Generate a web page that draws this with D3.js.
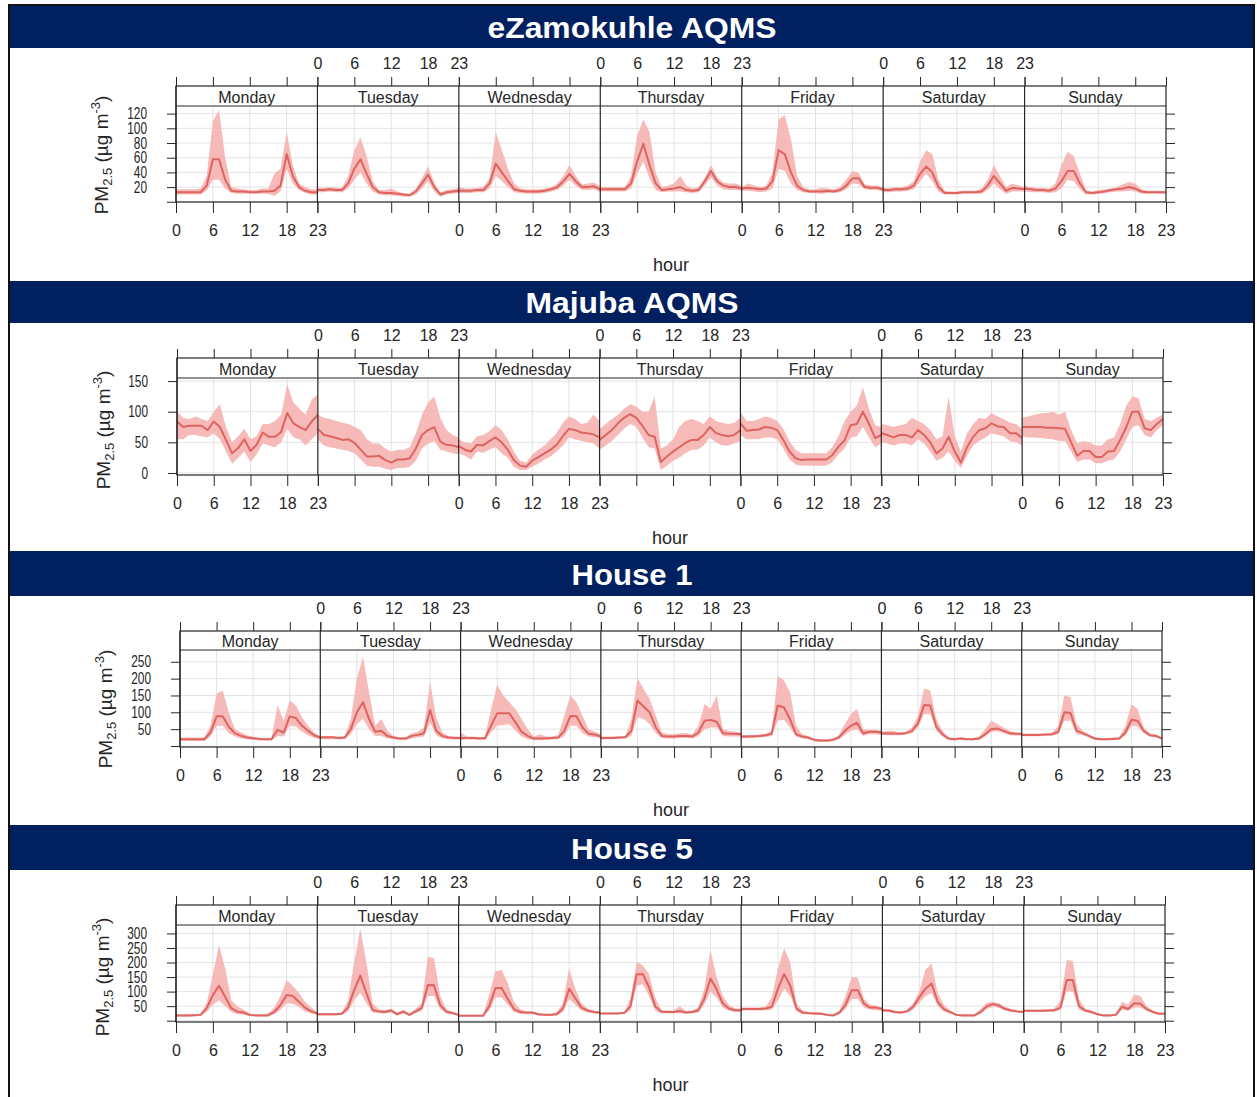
<!DOCTYPE html>
<html>
<head>
<meta charset="utf-8">
<script src="https://cdn.jsdelivr.net/npm/d3@7"></script>
<style>
  body { margin: 0; background: #fff; }
  text { font-family: Arial, "Liberation Sans", sans-serif; }
</style>
</head>
<body>
<div id="app"></div>
<script>
const days = ["Monday", "Tuesday", "Wednesday", "Thursday", "Friday", "Saturday", "Sunday"];
const hourTicks = [0, 6, 12, 18, 23];
const titles = ["eZamokuhle AQMS", "Majuba AQMS", "House 1", "House 5"];

// eZamokuhle AQMS - hourly mean per day and the shaded interval
const ezMean = [
  [13,13,13,13,13,22,58,58,30,15,14,14,13,13,14,14,15,22,65,35,20,15,13,13],
  [16,16,17,16,16,25,45,58,38,20,13,12,12,11,10,9,14,25,37,20,10,13,14,15],
  [15,15,15,16,16,25,52,40,28,17,15,14,14,14,15,17,20,28,38,28,20,20,21,17],
  [17,17,17,17,17,25,55,79,50,25,16,17,18,20,16,15,16,28,42,28,22,20,20,18],
  [18,19,18,17,18,28,70,65,40,22,16,14,14,14,15,14,16,22,32,32,20,19,19,17],
  [16,16,17,17,18,22,38,48,40,20,12,12,12,13,13,13,14,22,35,25,15,19,18,17],
  [18,17,16,16,15,18,28,42,42,25,13,12,13,14,16,17,18,20,18,14,13,13,13,13]
];
const ezHigh = [
  [17,17,17,17,18,35,110,125,60,20,18,17,16,16,18,18,38,45,95,50,25,20,17,17],
  [19,19,20,19,19,35,70,88,62,28,16,16,18,14,12,11,18,32,48,26,13,16,17,19],
  [20,18,18,19,20,32,95,70,45,25,18,17,17,17,18,20,25,35,50,35,24,25,26,21],
  [20,20,20,20,20,35,90,112,95,40,20,22,25,35,22,18,20,33,50,34,26,25,25,22],
  [20,25,22,20,22,40,112,118,85,35,20,17,17,19,18,17,20,30,42,40,24,22,22,20],
  [19,19,20,20,22,28,55,70,65,30,15,14,14,15,15,15,18,30,50,35,20,25,22,20],
  [22,20,19,19,18,25,50,68,62,38,16,14,16,17,18,20,24,27,25,17,15,15,15,15]
];
const ezLow = [
  [10,10,10,10,10,15,30,30,18,12,11,11,11,11,11,11,8,14,45,25,16,12,10,10],
  [13,13,14,13,13,18,30,40,25,14,10,9,9,8,7,7,10,18,28,14,7,10,11,12],
  [12,12,12,13,13,18,35,28,20,13,12,11,11,11,12,14,16,22,30,22,16,16,17,13],
  [14,14,14,14,14,18,38,55,32,16,13,14,14,14,13,12,13,22,33,22,17,16,16,15],
  [15,15,14,13,14,18,45,42,25,16,13,12,12,11,12,12,13,17,25,24,17,16,16,14],
  [13,13,14,14,15,17,28,38,28,14,10,10,10,11,11,11,11,16,25,17,11,14,14,14],
  [14,13,13,13,12,13,18,30,28,17,10,10,11,12,13,14,14,15,14,11,11,11,11,11]
];

// Majuba AQMS
const mjMean = [
  [84,75,77,77,77,70,84,75,54,32,41,55,36,46,66,59,59,67,98,81,75,70,84,95],
  [72,62,60,57,54,55,49,38,27,27,28,21,17,22,22,24,40,62,70,75,51,46,45,42],
  [44,38,35,46,45,52,58,50,38,21,12,10,20,26,32,38,46,60,72,70,66,65,63,58],
  [54,62,70,81,90,96,90,77,62,59,18,27,35,42,49,54,54,62,75,65,62,60,62,70],
  [81,69,70,71,75,74,70,54,35,24,21,22,22,22,22,29,43,53,78,80,100,80,57,62],
  [65,62,58,62,62,58,70,62,50,32,40,59,35,17,42,59,70,73,81,76,75,65,65,57],
  [75,75,75,75,74,74,73,72,50,28,36,36,26,26,35,36,54,75,100,100,73,70,80,88]
];
const mjHigh = [
  [100,90,88,92,88,85,100,112,75,50,60,72,55,60,80,80,85,95,145,115,105,95,120,128],
  [95,90,88,85,82,80,75,70,55,48,48,40,35,38,38,42,65,95,115,125,90,70,62,58],
  [55,50,48,60,62,68,78,70,55,35,20,17,30,38,45,55,65,82,92,88,80,82,95,85],
  [72,80,88,95,105,112,108,100,100,125,40,45,55,75,85,88,85,80,92,85,82,80,82,90],
  [100,85,85,88,92,90,85,72,52,38,32,32,32,32,32,42,60,85,100,110,140,105,78,75],
  [80,78,75,78,80,90,85,80,70,55,60,125,60,35,65,80,90,88,98,92,88,82,80,72],
  [90,92,95,97,98,100,95,100,70,48,52,50,45,45,55,58,80,110,125,122,88,85,90,95]
];
const mjLow = [
  [55,55,62,62,60,58,65,55,35,15,25,35,18,30,48,45,42,50,72,58,55,45,55,65],
  [55,45,42,40,38,36,32,22,12,10,10,7,5,8,8,10,20,40,48,52,38,35,32,30],
  [32,28,22,35,33,38,42,32,25,10,5,5,10,15,22,27,35,45,58,55,52,50,48,40],
  [38,45,52,62,72,80,75,58,42,40,5,12,20,25,32,38,38,45,58,50,45,45,48,52],
  [62,55,55,55,58,58,55,40,22,14,12,12,12,12,12,18,30,40,58,60,75,58,42,48],
  [50,48,45,48,48,45,55,48,35,20,25,35,20,8,28,45,52,58,65,62,60,52,50,45],
  [60,58,58,57,56,55,52,52,35,18,22,22,16,16,20,22,35,55,75,78,62,58,70,78]
];

// House 1
const h1Mean = [
  [20,20,20,20,20,40,88,88,57,38,30,25,23,21,20,20,48,40,88,83,60,45,32,25],
  [25,26,26,24,25,50,100,130,80,42,45,30,25,22,22,30,33,38,107,45,30,25,24,24],
  [24,24,24,23,23,60,97,97,97,70,42,30,22,22,23,24,25,45,89,88,55,36,34,28],
  [24,24,24,25,26,45,135,117,100,55,30,28,28,30,30,28,40,75,77,72,38,36,36,35],
  [28,28,29,30,32,36,120,115,80,35,28,25,18,16,16,18,25,45,60,69,38,42,42,40],
  [38,37,37,36,38,45,67,122,120,57,35,22,20,22,20,20,22,35,50,52,45,38,36,36],
  [33,33,33,33,34,35,42,100,98,45,38,30,22,20,20,21,22,40,78,75,45,32,30,22]
];
const h1High = [
  [25,25,25,25,26,60,155,165,100,50,40,32,28,25,24,24,122,75,136,120,85,60,40,30],
  [30,30,30,28,30,80,200,265,160,60,80,45,30,26,26,38,42,55,190,85,40,30,28,28],
  [40,28,28,27,27,110,182,150,130,110,80,50,28,35,28,28,32,90,150,130,90,50,42,35],
  [28,28,28,29,30,80,202,170,140,90,40,35,35,38,38,35,60,125,110,151,50,45,42,40],
  [32,32,33,34,36,45,208,195,160,60,35,30,22,20,20,22,32,65,95,110,50,48,48,46],
  [42,45,45,40,42,55,90,171,165,80,45,26,24,26,24,24,28,50,75,65,55,45,40,40],
  [37,37,37,37,38,40,60,151,145,65,45,35,26,24,24,25,27,60,125,110,55,38,35,26]
];
const h1Low = [
  [15,15,15,15,15,28,60,60,38,28,22,20,18,16,16,16,30,28,60,58,42,32,24,20],
  [20,20,20,20,20,35,65,80,50,30,30,22,20,18,18,22,25,28,70,32,22,20,19,19],
  [18,19,19,18,18,40,60,62,65,45,28,20,18,17,18,19,20,30,60,60,38,28,26,22],
  [20,20,20,21,22,30,85,80,65,38,24,22,22,24,24,22,30,50,55,55,30,28,28,28],
  [23,23,24,25,27,30,75,78,55,28,22,20,14,12,12,14,20,33,45,50,30,35,35,33],
  [34,32,32,32,34,38,55,95,95,45,28,18,17,18,17,17,18,28,42,44,38,32,31,31],
  [29,29,29,29,30,31,35,75,75,35,32,25,18,17,17,18,19,32,60,58,38,28,26,19]
];

// House 5
const h5Mean = [
  [18,18,18,19,20,43,88,120,82,43,31,28,20,18,18,18,30,54,88,85,65,45,32,25],
  [22,22,22,22,24,45,105,155,95,37,32,30,35,22,31,20,32,43,123,122,54,31,26,20],
  [17,17,17,17,17,50,112,112,75,40,30,28,28,22,20,20,22,42,110,77,45,35,30,28],
  [25,25,25,25,27,50,160,160,115,50,31,30,30,33,28,30,35,75,145,108,60,42,36,36],
  [40,40,40,40,42,48,110,160,120,42,28,26,25,24,20,18,28,55,105,105,58,45,45,40],
  [35,35,30,28,32,48,80,110,128,65,40,30,20,18,18,18,30,50,57,52,40,35,32,30],
  [34,34,34,34,35,36,45,140,140,50,35,30,22,18,18,20,48,40,60,58,40,30,24,24]
];
const h5High = [
  [22,22,22,23,25,60,160,260,180,70,50,38,25,22,22,25,45,85,140,120,95,65,45,30],
  [26,26,26,26,28,70,200,317,200,60,40,36,42,28,38,25,40,60,220,215,85,40,32,25],
  [20,20,20,20,20,90,170,174,130,65,40,32,32,26,24,24,30,60,180,110,60,42,35,32],
  [28,28,28,28,30,80,203,190,160,80,38,35,35,50,33,35,45,110,243,150,85,55,42,42],
  [45,45,45,45,48,80,180,249,200,60,35,30,30,28,24,22,35,85,150,148,75,55,52,45],
  [40,40,35,32,37,60,100,175,197,95,55,35,24,22,22,22,40,62,65,60,48,40,36,34],
  [38,38,38,38,40,42,70,209,205,75,42,35,26,22,22,25,65,55,90,85,50,36,28,28]
];
const h5Low = [
  [14,14,14,15,16,30,55,70,50,30,22,20,16,15,15,15,22,38,60,58,48,32,25,20],
  [18,18,18,18,20,32,70,95,60,28,26,25,28,18,25,16,26,34,85,85,40,25,21,16],
  [14,14,14,14,14,35,80,80,55,30,23,22,22,18,16,16,18,30,75,55,35,28,25,22],
  [22,22,22,22,24,35,120,125,85,35,26,26,26,26,24,25,28,55,100,80,45,34,30,30],
  [35,35,35,35,36,38,70,110,85,32,22,22,20,20,16,14,22,40,75,75,45,38,36,34],
  [30,30,26,24,27,38,62,85,95,50,32,25,17,15,15,15,24,40,48,44,34,30,28,26],
  [30,30,30,30,31,32,38,100,100,38,30,26,19,15,15,17,38,34,45,45,34,26,21,21]
];

const yTickSets = [
  [0, 20, 40, 60, 80, 100, 120],
  [0, 50, 100, 150],
  [0, 50, 100, 150, 200, 250],
  [0, 50, 100, 150, 200, 250, 300]
];

const stations = [
  { mean: ezMean, high: ezHigh, low: ezLow },
  { mean: mjMean, high: mjHigh, low: mjLow },
  { mean: h1Mean, high: h1High, low: h1Low },
  { mean: h5Mean, high: h5High, low: h5Low }
];

// page layout of each block (pixels)
const layouts = [
  { top: 5,   head: 43, left: 176, right: 1166, stripTop: 86,  stripBottom: 106, plotBottom: 202,  yDomain: [-0.3, 130.4], hideZero: true,  ytx: 108, yty: 155, titleW: 289 },
  { top: 281, head: 42, left: 177, right: 1163, stripTop: 358, stripBottom: 378, plotBottom: 475,  yDomain: [-3.3, 155],   hideZero: false, ytx: 110, yty: 430, titleW: 213 },
  { top: 551, head: 45, left: 180, right: 1162, stripTop: 631, stripBottom: 650, plotBottom: 747,  yDomain: [-3, 285],     hideZero: true,  ytx: 112, yty: 709, titleW: 121 },
  { top: 825, head: 45, left: 176, right: 1165, stripTop: 905, stripBottom: 925, plotBottom: 1022, yDomain: [-4.5, 329],   hideZero: true,  ytx: 109, yty: 977, titleW: 122 }
];

const W = 1257, H = 1097;
const ink = '#262626';
const lineCol = '#de6460';
const bandCol = '#f5b3b1';
const gridCol = '#e3e3e3';

const svg = d3.select('#app').append('svg')
  .attr('width', W).attr('height', H)
  .style('display', 'block');

svg.append('rect').attr('width', W).attr('height', H).attr('fill', '#fff');

const styleAxis = (g, fs) => {
  g.attr('font-family', 'Arial, "Liberation Sans", sans-serif').attr('font-size', fs);
  g.select('.domain').remove();
  g.selectAll('.tick line').attr('stroke', ink);
  g.selectAll('.tick text').attr('fill', ink);
};

stations.forEach((st, p) => {
  const L = layouts[p];
  const g = svg.append('g');

  // navy header bar
  g.append('rect')
    .attr('x', 9).attr('y', L.top)
    .attr('width', 1245).attr('height', L.head)
    .attr('fill', '#002060');
  g.append('text')
    .attr('x', 632).attr('y', L.top + L.head / 2 + 1)
    .attr('text-anchor', 'middle').attr('dominant-baseline', 'central')
    .attr('fill', '#fff').attr('font-weight', 'bold').attr('font-size', 29)
    .attr('textLength', L.titleW).attr('lengthAdjust', 'spacingAndGlyphs')
    .text(titles[p]);

  const xDay = d3.scaleBand().domain(days).range([L.left, L.right]).padding(0);
  const y = d3.scaleLinear().domain(L.yDomain).range([L.plotBottom, L.stripBottom]);
  const yTicks = yTickSets[p];

  // horizontal grid
  g.append('g').selectAll('line').data(yTicks).join('line')
    .attr('x1', L.left).attr('x2', L.right)
    .attr('y1', d => y(d)).attr('y2', d => y(d))
    .attr('stroke', gridCol);

  const clipId = 'strip' + p;
  svg.append('clipPath').attr('id', clipId)
    .append('rect')
    .attr('x', L.left).attr('y', L.stripTop)
    .attr('width', L.right - L.left).attr('height', L.stripBottom - L.stripTop);

  days.forEach((day, i) => {
    const x0 = xDay(day), x1 = x0 + xDay.bandwidth();
    const hx = d3.scaleLinear().domain([0, 23]).range([x0, x1]);
    const pts = st.mean[i].map((m, h) => ({ h, m, lo: st.low[i][h], hi: st.high[i][h] }));

    // vertical grid
    g.append('g').selectAll('line').data([6, 12, 18]).join('line')
      .attr('x1', d => hx(d)).attr('x2', d => hx(d))
      .attr('y1', L.stripBottom).attr('y2', L.plotBottom)
      .attr('stroke', gridCol);

    g.append('path').datum(pts)
      .attr('fill', bandCol).attr('opacity', 0.9)
      .attr('d', d3.area().x(d => hx(d.h)).y0(d => y(d.lo)).y1(d => y(d.hi)));

    g.append('path').datum(pts)
      .attr('fill', 'none').attr('stroke', lineCol).attr('stroke-width', 2)
      .attr('stroke-linejoin', 'round')
      .attr('d', d3.line().x(d => hx(d.h)).y(d => y(d.m)));

    // strip
    g.append('rect')
      .attr('x', x0).attr('y', L.stripTop)
      .attr('width', x1 - x0).attr('height', L.stripBottom - L.stripTop)
      .attr('fill', '#fff');
    g.append('text')
      .attr('clip-path', `url(#${clipId})`)
      .attr('x', (x0 + x1) / 2).attr('y', L.stripBottom - 3)
      .attr('text-anchor', 'middle').attr('font-size', 16).attr('fill', ink)
      .text(day);

    // hour axes: labels alternate between bottom and top
    const bottom = g.append('g').attr('transform', `translate(0,${L.plotBottom})`)
      .call(d3.axisBottom(hx).tickValues(hourTicks).tickSize(11).tickPadding(12).tickSizeOuter(0)
        .tickFormat(i % 2 === 0 ? d3.format('d') : () => ''));
    styleAxis(bottom, 16);
    const topAx = g.append('g').attr('transform', `translate(0,${L.stripTop})`)
      .call(d3.axisTop(hx).tickValues(hourTicks).tickSize(9).tickPadding(8).tickSizeOuter(0)
        .tickFormat(i % 2 === 1 ? d3.format('d') : () => ''));
    styleAxis(topAx, 16);

    // day separator
    g.append('line')
      .attr('x1', x0).attr('x2', x0)
      .attr('y1', L.stripTop).attr('y2', L.plotBottom)
      .attr('stroke', ink).attr('stroke-width', 1.2);
  });

  // strip bottom and outer frame
  g.append('line')
    .attr('x1', L.left).attr('x2', L.right)
    .attr('y1', L.stripBottom).attr('y2', L.stripBottom)
    .attr('stroke', ink).attr('stroke-width', 1.2);
  g.append('rect')
    .attr('x', L.left).attr('y', L.stripTop)
    .attr('width', L.right - L.left).attr('height', L.plotBottom - L.stripTop)
    .attr('fill', 'none').attr('stroke', ink).attr('stroke-width', 1.2);

  // y axes
  const yl = g.append('g').attr('transform', `translate(${L.left},0)`)
    .call(d3.axisLeft(y).tickValues(yTicks).tickSize(9).tickPadding(20)
      .tickFormat(d => (d === 0 && L.hideZero) ? '' : d));
  styleAxis(yl, 16);
  yl.selectAll('.tick text').each(function () {
    const t = d3.select(this).text();
    if (t) d3.select(this).attr('textLength', t.length * 6.6).attr('lengthAdjust', 'spacingAndGlyphs');
  });
  const yr = g.append('g').attr('transform', `translate(${L.right},0)`)
    .call(d3.axisRight(y).tickValues(yTicks).tickSize(9).tickFormat(() => ''));
  styleAxis(yr, 12);

  // axis titles
  const yt = g.append('text')
    .attr('transform', `translate(${L.ytx},${L.yty}) rotate(-90)`)
    .attr('text-anchor', 'middle').attr('font-size', 19).attr('fill', ink);
  yt.append('tspan').text('PM');
  yt.append('tspan').attr('font-size', 13).attr('dy', 4).text('2.5');
  yt.append('tspan').attr('dy', -4).text(' (\u00b5g m');
  yt.append('tspan').attr('font-size', 13).attr('dy', -8).text('-3');
  yt.append('tspan').attr('dy', 8).text(')');

  g.append('text')
    .attr('x', (L.left + L.right) / 2).attr('y', L.plotBottom + 69)
    .attr('text-anchor', 'middle').attr('font-size', 18).attr('fill', ink)
    .text('hour');
});

// outer frame round the four blocks
svg.append('rect')
  .attr('x', 9).attr('y', 5).attr('width', 1245).attr('height', H - 4)
  .attr('fill', 'none').attr('stroke', '#111').attr('stroke-width', 2);
</script>
</body>
</html>
